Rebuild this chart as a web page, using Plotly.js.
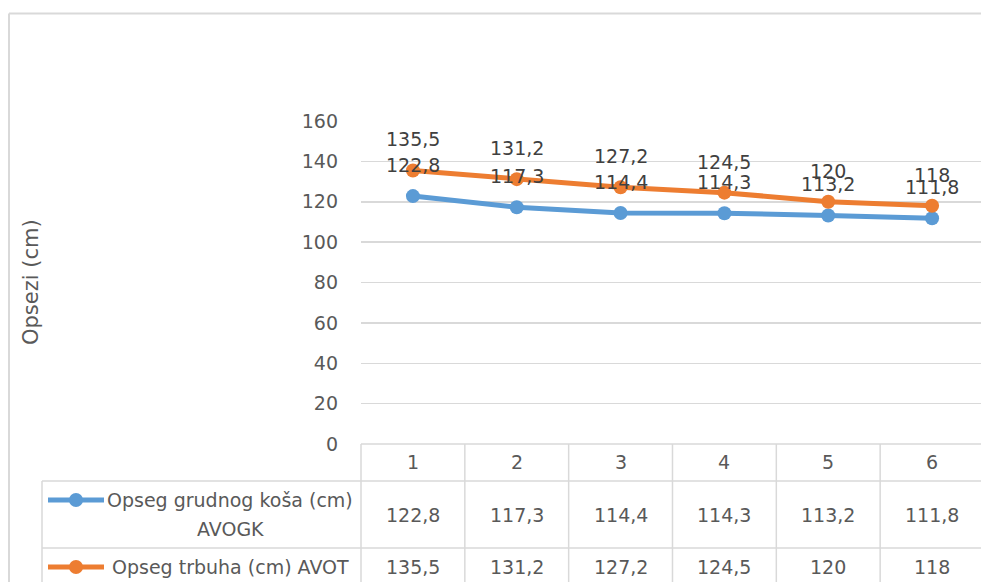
<!DOCTYPE html>
<html>
<head>
<meta charset="utf-8">
<script src="https://cdn.plot.ly/plotly-3.0.1.min.js"></script>
<style>html,body{margin:0;padding:0;background:#fff;}#chart{width:981px;height:582px;}</style>
</head>
<body>
<div id="chart"></div>
<script>
// ---- data ----
var categories = [1, 2, 3, 4, 5, 6];
var seriesNames = ['Opseg grudnog koša (cm)<br>AVOGK', 'Opseg trbuha (cm) AVOT'];
var chestValues = [122.8, 117.3, 114.4, 114.3, 113.2, 111.8];
var bellyValues = [135.5, 131.2, 127.2, 124.5, 120, 118];
var seriesColors = ['#5B9BD5', '#ED7D31'];
var yTickValues = [0, 20, 40, 60, 80, 100, 120, 140, 160];
var yTitle = 'Opsezi (cm)';

// ---- layout geometry (pixels) ----
var W = 981, H = 582;
var L = 361, T = 121, B = 138, R = 0;
var PW = W - L - R, PH = H - T - B;
function xp(px) { return (px - L) / PW; }
function yp(py) { return (H - B - py) / PH; }
var colW = 103.83;

var FONT = 'DejaVu Sans';
var TXT = '#595959';
var GRID = '#d9d9d9';
var FS = 19;
var fmt = function (v) { return String(v).replace('.', ','); };

var allValues = [chestValues, bellyValues];

var traces = allValues.map(function (vals, i) {
  return {
    x: categories, y: vals, type: 'scatter', mode: 'lines+markers',
    name: seriesNames[i].replace('<br>', ' '),
    line: { color: seriesColors[i], width: 5 },
    marker: { color: seriesColors[i], size: 14 },
    hoverinfo: 'skip'
  };
});

var annotations = [];
var shapes = [];

// data labels
allValues.forEach(function (vals, i) {
  vals.forEach(function (v, j) {
    annotations.push({
      x: categories[j], y: v, xref: 'x', yref: 'y', text: fmt(v),
      showarrow: false, yshift: 31, xanchor: 'center', yanchor: 'middle',
      font: { family: FONT, size: FS, color: '#404040' }
    });
  });
});

// y axis title
annotations.push({
  xref: 'paper', yref: 'paper', x: xp(31), y: yp(282), text: yTitle,
  xanchor: 'center', yanchor: 'middle',
  textangle: -90, showarrow: false, font: { family: FONT, size: 21, color: TXT }
});

// table header row and values
var rowCenters = [515, 567];
categories.forEach(function (c, j) {
  annotations.push({
    xref: 'x', yref: 'paper', x: c, y: yp(462), text: String(c), showarrow: false,
    xanchor: 'center', yanchor: 'middle',
    font: { family: FONT, size: FS, color: TXT }
  });
  allValues.forEach(function (vals, i) {
    annotations.push({
      xref: 'x', yref: 'paper', x: c, y: yp(rowCenters[i]), text: fmt(vals[j]), showarrow: false,
      xanchor: 'center', yanchor: 'middle',
      font: { family: FONT, size: FS, color: TXT }
    });
  });
});

// legend cells
var legendLines = [[500, 529], [567]];
seriesNames.forEach(function (nm, i) {
  var parts = nm.split('<br>');
  parts.forEach(function (p, k) {
    annotations.push({
      xref: 'paper', yref: 'paper', x: xp(230), y: yp(legendLines[i][k]), text: p,
      showarrow: false, xanchor: 'center', yanchor: 'middle',
      font: { family: FONT, size: FS, color: TXT }
    });
  });
  var sy = legendLines[i][0];
  shapes.push({
    type: 'line', xref: 'paper', yref: 'paper', x0: xp(48), x1: xp(104), y0: yp(sy), y1: yp(sy),
    line: { color: seriesColors[i], width: 5 }
  });
  shapes.push({
    type: 'circle', xref: 'paper', yref: 'paper', x0: xp(69), x1: xp(83), y0: yp(sy - 7), y1: yp(sy + 7),
    fillcolor: seriesColors[i], line: { color: seriesColors[i], width: 0 }
  });
});

// table lines
function hline(y, x0, x1, w, col) {
  shapes.push({ type: 'line', xref: 'paper', yref: 'paper', x0: xp(x0), x1: xp(x1), y0: yp(y), y1: yp(y), line: { color: col || GRID, width: w || 1.5 }, layer: 'below' });
}
function vline(x, y0, y1, w, col) {
  shapes.push({ type: 'line', xref: 'paper', yref: 'paper', x0: xp(x), x1: xp(x), y0: yp(y0), y1: yp(y1), line: { color: col || GRID, width: w || 1.5 }, layer: 'below' });
}
hline(444, L, W + 5);
hline(481, 42, W + 5);
hline(548, 42, W + 5);
vline(42, 481, H + 5);
for (var k = 0; k <= categories.length; k++) {
  vline(L + k * colW, 444, H + 5);
}
// outer chart frame
hline(13.5, 9, W + 5, 2);
vline(9, 13.5, H + 5, 2);

var layout = {
  width: W, height: H,
  margin: { l: L, r: R, t: T, b: B, pad: 0 },
  paper_bgcolor: '#fff', plot_bgcolor: '#fff',
  showlegend: false,
  xaxis: {
    range: [0.5, 0.5 + PW / colW], showgrid: false, zeroline: false, showline: false,
    showticklabels: false, ticks: '', fixedrange: true
  },
  yaxis: {
    range: [0, 160], tickvals: yTickValues, ticktext: yTickValues.map(String),
    showgrid: true, gridcolor: GRID, gridwidth: 1.5, zeroline: false, showline: false,
    ticks: '', ticklabelstandoff: 22,
    tickfont: { family: FONT, size: FS, color: TXT }, fixedrange: true
  },
  annotations: annotations,
  shapes: shapes
};

Plotly.newPlot('chart', traces, layout, { displayModeBar: false, staticPlot: true });
</script>
</body>
</html>
